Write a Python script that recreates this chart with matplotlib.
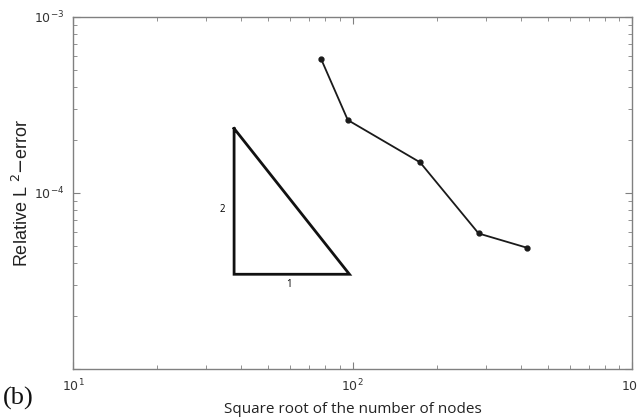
import matplotlib.pyplot as plt
import numpy as np
from matplotlib.ticker import LogLocator, FuncFormatter

# convergence data
nodes_sqrt = [77.3, 96.2, 174.5, 282.7, 422.7]
rel_error = [5.73e-4, 2.59e-4, 1.49e-4, 5.88e-5, 4.87e-5]

# slope-2 reference triangle vertices
tri_x = [37.7, 37.7, 97.5, 37.7]
tri_y = [2.32e-4, 3.45e-5, 3.45e-5, 2.32e-4]

fig = plt.figure(figsize=(6.38, 4.19), dpi=100)
ax = fig.add_axes([73 / 638, 1 - 369 / 419, (632 - 73) / 638, (369 - 16.7) / 419])

ax.plot(nodes_sqrt, rel_error, color='#1a1a1a', lw=1.3, marker='o', ms=3.5)
ax.plot(tri_x, tri_y, color='#111111', lw=2, solid_joinstyle='miter')

ax.set_xscale('log')
ax.set_yscale('log')
ax.set_xlim(1e1, 1e3)
ax.set_ylim(1e-5, 1e-3)

# triangle side labels
ax.text(34.3, 8.0e-5, '2', fontsize=7, ha='center', va='center', family='Open Sans')
ax.text(59.1, 3.03e-5, '1', fontsize=7, ha='center', va='center', family='Open Sans')

gray = '#808080'
for s in ax.spines.values():
    s.set_color(gray)
    s.set_linewidth(1.0)

ax.xaxis.set_major_locator(LogLocator(base=10, numticks=10))
ax.yaxis.set_major_locator(LogLocator(base=10, numticks=10))
ax.xaxis.set_minor_locator(LogLocator(base=10, subs=np.arange(2, 10), numticks=20))
ax.yaxis.set_minor_locator(LogLocator(base=10, subs=np.arange(2, 10), numticks=20))
fmt = FuncFormatter(lambda v, p: r'$10^{%d}$' % round(np.log10(v)))
yfmt = FuncFormatter(lambda v, p: '' if round(np.log10(v)) == -5 else r'$10^{%d}$' % round(np.log10(v)))
ax.xaxis.set_major_formatter(fmt)
ax.yaxis.set_major_formatter(yfmt)

ax.tick_params(which='both', direction='in', top=True, right=True, color=gray,
               labelcolor='#333333', labelsize=9)
ax.tick_params(which='major', length=5, pad=6)
ax.tick_params(which='minor', length=3)

ax.set_xlabel('Square root of the number of nodes', fontsize=11, family='Open Sans',
              color='#222222', labelpad=6)
ax.set_ylabel(r'Relative L $^{2}$$-$error', fontsize=13, family='Liberation Sans',
              color='#222222', labelpad=2)

fig.text(0.005, 0.035, '(b)', fontsize=19, family='Liberation Serif', color='#111111')

fig.savefig('out.png', dpi=100)
